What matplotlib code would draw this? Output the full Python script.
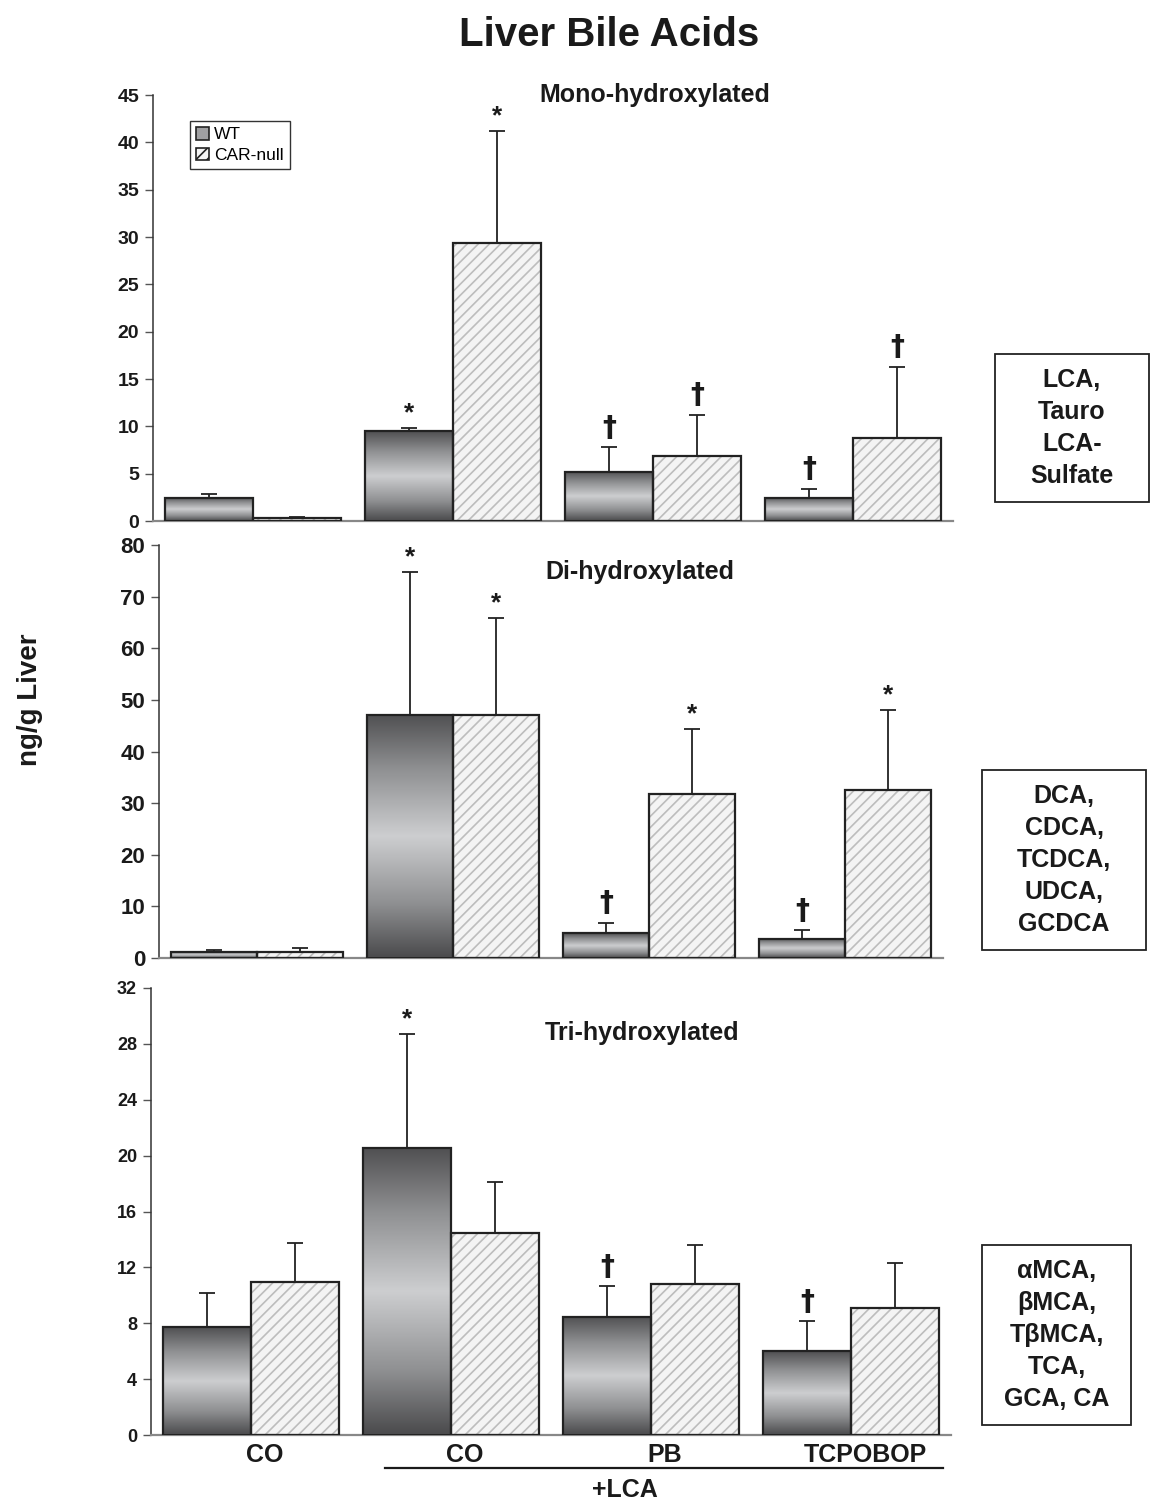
import matplotlib
matplotlib.use('Agg')
import matplotlib.pyplot as plt
import numpy as np
from matplotlib.colors import LinearSegmentedColormap
from matplotlib.patches import Patch, Rectangle
from matplotlib.lines import Line2D
import matplotlib.transforms as mtransforms

plt.rcParams['font.family'] = ['Liberation Sans', 'DejaVu Sans']
plt.rcParams['font.weight'] = 'bold'
plt.rcParams['hatch.linewidth'] = 1.2

# data (ng/g liver, mean and upper SEM)
groups = ['CO', 'CO', 'PB', 'TCPOBOP']

mono_wt = [2.45, 9.5, 5.2, 2.45]
mono_wt_err = [0.45, 0.3, 2.6, 0.95]
mono_car = [0.3, 29.35, 6.9, 8.75]
mono_car_err = [0.15, 11.85, 4.3, 7.55]

di_wt = [1.2, 47.1, 4.8, 3.7]
di_wt_err = [0.3, 27.7, 2.0, 1.7]
di_car = [1.2, 47.1, 31.8, 32.5]
di_car_err = [0.7, 18.8, 12.6, 15.5]

tri_wt = [7.73, 20.55, 8.45, 6.0]
tri_wt_err = [2.4, 8.15, 2.2, 2.15]
tri_car = [10.95, 14.46, 10.8, 9.1]
tri_car_err = [2.8, 3.65, 2.8, 3.2]

mono_marks = [(1, 'wt', '*'), (1, 'car', '*'), (2, 'wt', '†'), (2, 'car', '†'),
              (3, 'wt', '†'), (3, 'car', '†')]
di_marks = [(1, 'wt', '*'), (1, 'car', '*'), (2, 'wt', '†'), (2, 'car', '*'),
            (3, 'wt', '†'), (3, 'car', '*')]
tri_marks = [(1, 'wt', '*'), (2, 'wt', '†'), (3, 'wt', '†')]

W, H = 1150, 1504
fig = plt.figure(figsize=(W / 100, H / 100), dpi=100)


def rect(l, r, t, b):
    return [l / W, 1 - b / H, (r - l) / W, (b - t) / H]


cmap = LinearSegmentedColormap.from_list(
    'wtgrad', [(0, '#4a4a4c'), (0.22, '#8e8f91'), (0.5, '#cdced0'),
               (0.78, '#8e8f91'), (1, '#505052')])
grad = np.linspace(0, 1, 256).reshape(-1, 1)
bw = 0.44
x = np.arange(len(groups))


def panel(r, wt, wt_err, car, car_err, marks, ymax, ystep, tfs, title, tpos):
    ax = fig.add_axes(r)
    wbars = ax.bar(x - bw, wt, bw, align='edge', facecolor='none',
                   edgecolor='#222222', linewidth=1.6, zorder=3)
    for b in wbars:
        x0, h = b.get_x(), b.get_height()
        im = ax.imshow(grad, cmap=cmap, extent=[x0, x0 + bw, 0, h], aspect='auto',
                       origin='lower', interpolation='bicubic', zorder=2)
        im.set_clip_path(b)
    ax.bar(x, car, bw, align='edge', color='#f4f4f4', hatch='///',
           edgecolor='#bdbdbd', linewidth=0, zorder=2)
    ax.bar(x, car, bw, align='edge', fill=False, edgecolor='#222222',
           linewidth=1.6, zorder=3)
    z = np.zeros(len(x))
    ax.errorbar(x - bw / 2, wt, yerr=[z, wt_err], fmt='none', ecolor='#222222',
                elinewidth=1.3, capsize=6, capthick=1.3, zorder=4)
    ax.errorbar(x + bw / 2, car, yerr=[z, car_err], fmt='none', ecolor='#222222',
                elinewidth=1.3, capsize=6, capthick=1.3, zorder=4)
    for g, s, sym in marks:
        if s == 'wt':
            xc, top = g - bw / 2, wt[g] + wt_err[g]
        else:
            xc, top = g + bw / 2, car[g] + car_err[g]
        if sym == '*':
            ax.annotate(sym, (xc, top), xytext=(0, 2), textcoords='offset points',
                        ha='center', va='bottom', fontsize=19, fontweight='bold',
                        color='#1a1a1a')
        else:
            ax.annotate(sym, (xc, top), xytext=(0, 4), textcoords='offset points',
                        ha='center', va='bottom', fontsize=20, fontweight='bold',
                        family=['DejaVu Sans'], color='#1a1a1a')
    ax.set_xlim(-0.5, len(groups) - 0.5)
    ax.set_ylim(0, ymax)
    ax.set_yticks(np.arange(0, ymax + 0.1, ystep))
    ax.tick_params(axis='y', direction='out', length=6, width=1, color='#555555',
                   labelsize=tfs, pad=4)
    for lab in ax.get_yticklabels():
        lab.set_fontweight('bold')
        lab.set_color('#1a1a1a')
    ax.set_xticks([])
    ax.spines['top'].set_visible(False)
    ax.spines['right'].set_visible(False)
    ax.spines['left'].set_color('#333333')
    ax.spines['left'].set_linewidth(1.1)
    ax.spines['bottom'].set_color('#888888')
    ax.spines['bottom'].set_linewidth(1.6)
    ax.patch.set_alpha(0)
    ax.text(tpos[0], tpos[1], title, transform=ax.transAxes, ha='center',
            va='center', fontsize=18, fontweight='bold', color='#1a1a1a')
    return ax


ax1 = panel(rect(153, 953, 95, 521), mono_wt, mono_wt_err, mono_car, mono_car_err,
            mono_marks, 45, 5, 14, 'Mono-hydroxylated', (0.6275, 1.0))
ax2 = panel(rect(159, 943, 545, 958), di_wt, di_wt_err, di_car, di_car_err,
            di_marks, 80, 10, 16, 'Di-hydroxylated', (0.613, 0.935))
ax3 = panel(rect(151, 951, 988, 1435), tri_wt, tri_wt_err, tri_car, tri_car_err,
            tri_marks, 32, 4, 13, 'Tri-hydroxylated', (0.614, 0.90))

ax3.set_xticks(x + 0.07)
ax3.set_xticklabels(groups, fontsize=18, fontweight='bold', color='#1a1a1a')
ax3.tick_params(axis='x', length=0, pad=6)

# +LCA bracket
tr = mtransforms.blended_transform_factory(ax3.transData, ax3.transAxes)
ax3.add_line(Line2D([0.67, 3.46], [-0.074, -0.074], transform=tr, color='#1a1a1a',
                    linewidth=1.6, clip_on=False))
ax3.text(1.87, -0.124, '+LCA', transform=tr, ha='center', va='center',
         fontsize=18, fontweight='bold', color='#1a1a1a')

fig.text(609 / W, 1 - 35 / H, 'Liver Bile Acids', ha='center', va='center',
         fontsize=29, fontweight='bold', color='#1a1a1a')
fig.text(30 / W, 1 - 700 / H, 'ng/g Liver', ha='center', va='center',
         rotation=90, fontsize=20, fontweight='bold', color='#1a1a1a')

handles = [Patch(facecolor='#a0a0a2', edgecolor='#222222', linewidth=1.2, label='WT'),
           Patch(facecolor='#f4f4f4', edgecolor='#222222', hatch='///',
                 linewidth=1.2, label='CAR-null')]
leg = fig.legend(handles=handles, loc='upper left',
                 bbox_to_anchor=(190 / W, 1 - 121 / H), fancybox=False,
                 edgecolor='#333333', framealpha=1, handlelength=0.75,
                 handleheight=0.75, handletextpad=0.3, borderpad=0.35,
                 labelspacing=0.3, borderaxespad=0,
                 prop={'size': 12.5, 'weight': 'normal'})
leg.get_frame().set_linewidth(1)

# side boxes listing bile acids
boxes = [((995, 1149, 354, 502), 'LCA,\nTauro\nLCA-\nSulfate'),
         ((982, 1146, 770, 950), 'DCA,\nCDCA,\nTCDCA,\nUDCA,\nGCDCA'),
         ((982, 1131, 1245, 1425), 'αMCA,\nβMCA,\nTβMCA,\nTCA,\nGCA, CA')]
for (l, r, t, b), txt in boxes:
    fig.add_artist(Rectangle((l / W, 1 - b / H), (r - l) / W, (b - t) / H,
                             transform=fig.transFigure, fill=False,
                             edgecolor='#222222', linewidth=1.3))
    fig.text((l + r) / 2 / W, 1 - (t + b) / 2 / H, txt, ha='center', va='center',
             fontsize=18, fontweight='bold', linespacing=1.42, color='#1a1a1a')

fig.savefig('out.png', dpi=100)
